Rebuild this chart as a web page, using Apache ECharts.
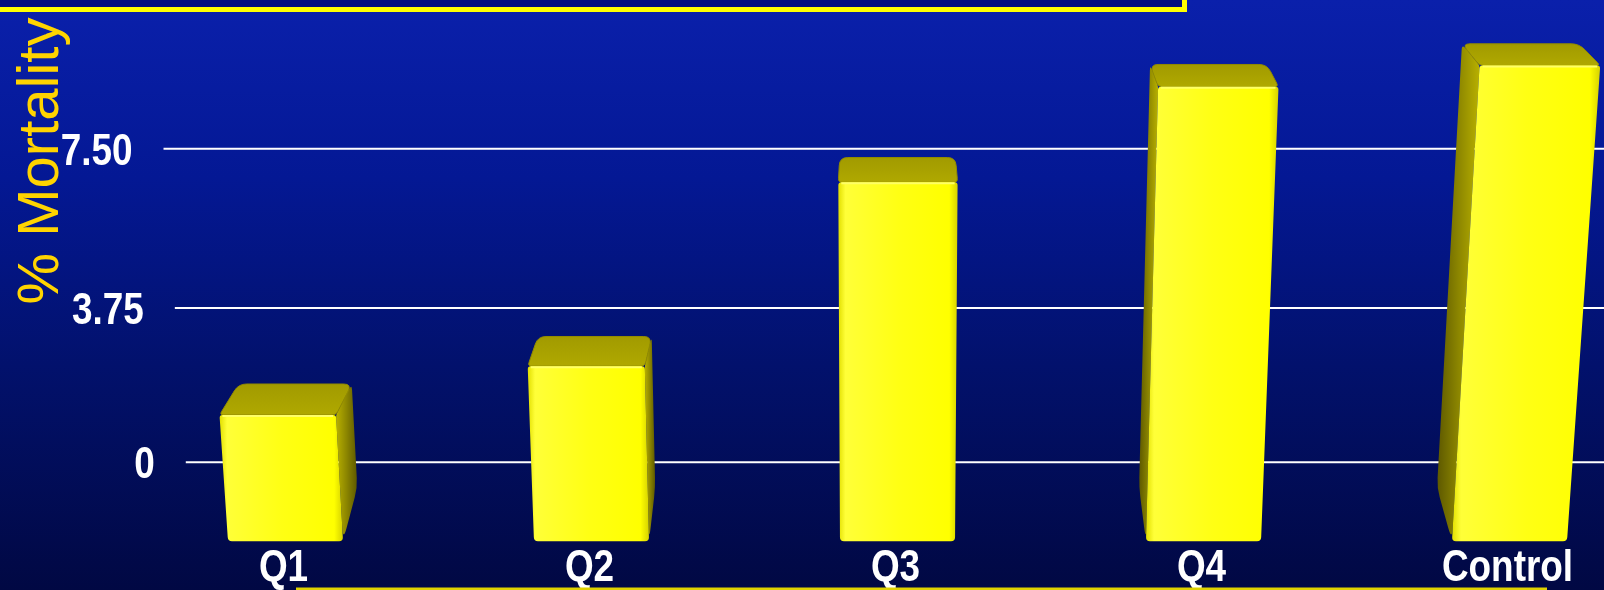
<!DOCTYPE html>
<html>
<head>
<meta charset="utf-8">
<title>% Mortality by quartile</title>
<script src="https://cdn.jsdelivr.net/npm/echarts@6/dist/echarts.min.js"></script>
<style>
  html, body { margin: 0; padding: 0; background: #020a48; }
  #chart { width: 1604px; height: 590px; }
</style>
</head>
<body>
<div id="chart"></div>
<script>
// ---- data ----
const categories = ['Q1', 'Q2', 'Q3', 'Q4', 'Control'];
const mortality = [2.9, 4.0, 8.05, 10.1, 10.55];
const tickValues = [0, 3.75, 7.5];
const tickLabels = ['0', '3.75', '7.50'];

// ---- simple perspective camera (tilted downward) ----
const CAM = { cx: 885, cy: 295, f: 3103, sin: 0.2961, cos: 0.9552 };
const FLOOR_Y = -1075;     // world height of the floor relative to the eye
const Z_FRONT = 2693;      // depth of the front faces of the columns
const BAR_DEPTH = 88;      // column depth
const WALL_Z = 2905;       // depth of the back wall carrying the grid lines
const WALL_LEFT = -697;    // left edge of the back wall
const PX_PER_X = 1.0735;   // screen px per world unit along the floor front line

function project(X, Y, Z) {
  const df = -Y * CAM.sin + Z * CAM.cos;
  const du = Y * CAM.cos + Z * CAM.sin;
  return [CAM.cx + CAM.f * X / df, CAM.cy - CAM.f * du / df];
}

// convert a point produced by the cartesian axes into world space
function toWorld(api, idx, value) {
  const p = api.coord([idx, value]);
  const base = api.coord([idx, 0]);
  return { X: (p[0] - CAM.cx) / PX_PER_X, Y: FLOOR_Y + (base[1] - p[1]) };
}

// SVG path of a polygon whose corners are rounded by the given radii (px)
function roundedPath(pts, radii) {
  const n = pts.length;
  let d = '';
  for (let i = 0; i < n; i++) {
    const p = pts[i], prev = pts[(i + n - 1) % n], next = pts[(i + 1) % n];
    const r = radii[i];
    const l1 = Math.hypot(prev[0] - p[0], prev[1] - p[1]);
    const l2 = Math.hypot(next[0] - p[0], next[1] - p[1]);
    const r1 = Math.min(r, l1 / 2), r2 = Math.min(r, l2 / 2);
    const a = [p[0] + (prev[0] - p[0]) * r1 / l1, p[1] + (prev[1] - p[1]) * r1 / l1];
    const b = [p[0] + (next[0] - p[0]) * r2 / l2, p[1] + (next[1] - p[1]) * r2 / l2];
    d += (i === 0 ? 'M' : 'L') + a[0].toFixed(2) + ',' + a[1].toFixed(2) +
         'Q' + p[0].toFixed(2) + ',' + p[1].toFixed(2) + ' ' + b[0].toFixed(2) + ',' + b[1].toFixed(2);
  }
  return d + 'Z';
}

// bold condensed look: Liberation Sans Bold squeezed horizontally
const LABEL_FONT = 'bold 45px "Liberation Sans", Arial, sans-serif';
const NARROW = 0.82;
const UNIT = 43;           // px per value unit on the linear axis
const Y_MAX = 12.5;
const BASE_Y = 541.3;

function narrowText(text, x, y, align, vAlign) {
  return {
    type: 'text', x: x, y: y, scaleX: NARROW,
    style: { text: text, x: 0, y: 0, fill: '#ffffff', font: LABEL_FONT,
             align: align, verticalAlign: vAlign }
  };
}

function renderWall(params, api) {
  const v = api.value(1);
  const w = toWorld(api, 0, v);
  const a = project(WALL_LEFT, w.Y, WALL_Z);
  const b = project(3000, w.Y, WALL_Z);
  return {
    type: 'group',
    children: [
      { type: 'line', shape: { x1: a[0], y1: a[1], x2: b[0], y2: b[1] },
        style: { stroke: '#ffffff', lineWidth: 2 } },
      narrowText(tickLabels[params.dataIndex], a[0] - 31, a[1] + 3.5, 'right', 'middle')
    ]
  };
}

function renderBar(params, api) {
  const idx = api.value(0);
  const top = toWorld(api, idx, api.value(1));
  const bandPx = api.size([1, 0])[0];
  const hw = bandPx * 0.188 / PX_PER_X;
  const X = top.X, Yt = top.Y, Yb = FLOOR_Y;
  const zf = Z_FRONT, zb = Z_FRONT + BAR_DEPTH;
  const P = (x, y, z) => project(x, y, z);

  const front = [P(X - hw, Yb, zf), P(X + hw, Yb, zf), P(X + hw, Yt, zf), P(X - hw, Yt, zf)];
  const topFace = [P(X - hw, Yt, zf), P(X + hw, Yt, zf), P(X + hw, Yt, zb), P(X - hw, Yt, zb)];
  const children = [];

  let sideX = null, rightSide = false;
  if (X + hw < 0) { sideX = X + hw; rightSide = true; }
  else if (X - hw > 0) { sideX = X - hw; }
  if (sideX !== null) {
    const side = [P(sideX, Yb, zf), P(sideX, Yt, zf), P(sideX, Yt, zb), P(sideX, Yb + 20, zb)];
    children.push({
      type: 'path', shape: { pathData: roundedPath(side, [14, 2, 6, 10]) },
      style: { fill: new echarts.graphic.LinearGradient(rightSide ? 0 : 1, 0, rightSide ? 1 : 0, 0, [
        { offset: 0, color: '#b8b000' }, { offset: 0.5, color: '#8c8600' }, { offset: 1, color: '#5e5900' }
      ]) }
    });
  }
  children.push({
    type: 'path', shape: { pathData: roundedPath(topFace, [4, 4, 8, 8]) },
    style: { fill: new echarts.graphic.LinearGradient(0, 1, 0, 0, [
      { offset: 0, color: '#b0a900' }, { offset: 1, color: '#a19a00' }
    ]), stroke: '#938c00', lineWidth: 1 }
  });
  children.push({
    type: 'path', shape: { pathData: roundedPath(front, [4, 4, 3, 3]) },
    style: { fill: new echarts.graphic.LinearGradient(0, 0, 1, 0, [
      { offset: 0, color: '#e2df00' }, { offset: 0.06, color: '#ffff38' },
      { offset: 0.5, color: '#ffff14' }, { offset: 0.93, color: '#ffff00' }, { offset: 1, color: '#d6d200' }
    ]) }
  });
  // bright rim along the rounded front-top edge
  children.push({
    type: 'line', shape: { x1: front[3][0] + 3, y1: front[3][1] + 1, x2: front[2][0] - 3, y2: front[2][1] + 1 },
    style: { stroke: '#ffff66', lineWidth: 2 }
  });
  // category name under the column
  const fb = api.coord([idx, 0]);
  children.push(narrowText(categories[idx], fb[0] - 2, fb[1] + 27.5, 'center', 'middle'));
  return { type: 'group', children };
}

const chart = echarts.init(document.getElementById('chart'), null, { renderer: 'canvas' });
chart.setOption({
  animation: false,
  backgroundColor: new echarts.graphic.LinearGradient(0, 0, 0, 1, [
    { offset: 0, color: '#0a20ab' },
    { offset: 0.3, color: '#041894' },
    { offset: 0.62, color: '#02116c' },
    { offset: 1, color: '#010843' }
  ]),
  grid: {
    left: 132.5, width: 1530,
    top: BASE_Y - UNIT * Y_MAX, height: UNIT * Y_MAX,
    outerBoundsMode: 'none'
  },
  xAxis: {
    type: 'category',
    data: categories,
    axisLine: { show: false },
    axisTick: { show: false },
    axisLabel: { show: false },
    splitLine: { show: false }
  },
  yAxis: {
    type: 'value', min: 0, max: Y_MAX, interval: 2.5,
    show: false
  },
  graphic: [
    { type: 'text', x: 42, y: 161, rotation: Math.PI / 2, z: 10,
      style: { text: '% Mortality', fill: '#ffd400', font: '58px "Liberation Sans", Arial, sans-serif',
               align: 'center', verticalAlign: 'middle' } },
    { type: 'rect', z: 20, shape: { x: -10, y: -30, width: 1194.5, height: 39.5 },
      style: { fill: '#03107f', stroke: '#ffff00', lineWidth: 5 } },
    { type: 'rect', z: 20, shape: { x: 296, y: 587.5, width: 1251, height: 3 },
      style: { fill: '#e0d200' } }
  ],
  series: [
    {
      type: 'custom', name: 'grid lines', z: 1,
      renderItem: renderWall,
      data: tickValues.map(v => [0, v]),
      silent: true, clip: false
    },
    {
      type: 'custom', name: '% Mortality', z: 2,
      renderItem: renderBar,
      data: mortality.map((v, i) => [i, v]),
      clip: false
    }
  ]
});
</script>
</body>
</html>
